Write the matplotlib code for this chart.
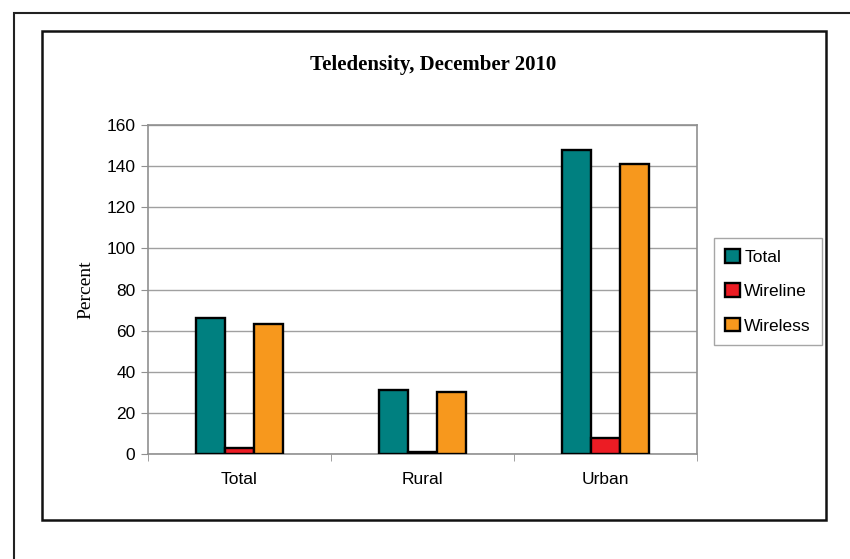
import matplotlib.pyplot as plt
from matplotlib.patches import Rectangle
import numpy as np

# teledensity by area, December 2010 (percent)
areas = ["Total", "Rural", "Urban"]
total = [66.2, 31.2, 148.0]
wireline = [2.9, 1.0, 7.6]
wireless = [63.4, 30.2, 141.2]
series_names = ["Total", "Wireline", "Wireless"]
colors = ["#008080", "#ec1c24", "#f7981d"]

fig = plt.figure(figsize=(8.5, 5.59), dpi=100)
ax = fig.add_axes([0.1741, 0.1878, 0.6459, 0.5886])

x = np.arange(len(areas))
w = 0.16
for i, (vals, c, name) in enumerate(zip([total, wireline, wireless], colors, series_names)):
    ax.bar(x + (i - 1) * w, vals, w, color=c, edgecolor="black", linewidth=1.7,
           label=name, zorder=3)

ax.set_xlim(-0.5, 2.5)
ax.set_ylim(0, 160)
ax.set_yticks(range(0, 161, 20))
ax.grid(axis="y", color="#a0a0a0", linewidth=1.0, zorder=0)
for s in ax.spines.values():
    s.set_color("#909090")
    s.set_linewidth(1.2)

sans = "Liberation Sans"
serif = "Liberation Serif"
ax.set_xticks(x)
ax.set_xticklabels(areas, fontsize=12.5, family=sans)
ax.tick_params(axis="x", length=0, pad=13)
ax.set_xticks([-0.5, 0.5, 1.5, 2.5], minor=True)
ax.tick_params(axis="x", which="minor", length=5, color="#909090", direction="out")
for lab in ax.get_yticklabels():
    lab.set_family(sans)
ax.tick_params(axis="y", labelsize=12.5, length=5, color="#909090", pad=4)

ax.set_ylabel("Percent", family=serif, fontsize=14, labelpad=9)
fig.text(0.509, 1 - 65 / 559, "Teledensity, December 2010", family=serif,
         fontsize=15, fontweight="bold", ha="center", va="center")

leg = fig.legend(loc="upper left", bbox_to_anchor=(714 / 850, 1 - 238 / 559),
                 bbox_transform=fig.transFigure, prop={"family": sans, "size": 12.5},
                 handlelength=0.85, handleheight=0.85, handletextpad=0.25,
                 labelspacing=1.05, borderpad=0.65, fancybox=False,
                 edgecolor="#909090", borderaxespad=0)
leg.get_frame().set_linewidth(1.0)

# page frames around the chart
fig.add_artist(Rectangle((42 / 850, 1 - 520 / 559), 784 / 850, 489 / 559,
                         transform=fig.transFigure, fill=False,
                         edgecolor="#111111", linewidth=1.8))
fig.add_artist(Rectangle((14 / 850, -0.05), 1.0, 1 - 13 / 559 + 0.05,
                         transform=fig.transFigure, fill=False,
                         edgecolor="#222222", linewidth=1.5))

fig.savefig("out.png", dpi=100)
